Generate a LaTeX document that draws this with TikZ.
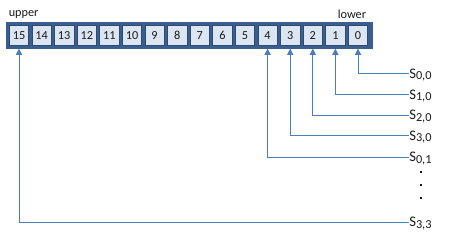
\documentclass[tikz,border=0pt]{standalone}
\usepackage{fontspec}
\setmainfont{Carlito}
\usetikzlibrary{arrows.meta}
\definecolor{boxdark}{HTML}{3A5F8E}
\definecolor{cellfill}{HTML}{DCE6F2}
\definecolor{connblue}{HTML}{4A7EBB}
\definecolor{txt}{HTML}{1A1A1A}
\newcommand{\slab}[1]{{\fontsize{11}{12}\selectfont S}\raisebox{-1.1pt}{\fontsize{9.2}{10}\selectfont #1}}
\begin{document}
\begin{tikzpicture}[x=0.75pt,y=-0.75pt,
  regbox/.style={rectangle,fill=boxdark,draw=boxdark,minimum width=274.5pt,minimum height=19.6pt,inner sep=0pt},
  cell/.style={rectangle,fill=cellfill,draw=boxdark!80!black,line width=0.4pt,minimum width=14.6pt,minimum height=15.2pt,inner sep=0pt,font=\fontsize{9.2}{10}\selectfont,text=txt},
  lab/.style={anchor=west,inner sep=0pt,text height=8.4pt,text depth=1.4pt,text=txt},
  side/.style={inner sep=0pt,font=\fontsize{9.2}{10}\selectfont,text=txt},
  conn/.style={draw=connblue,line width=0.75pt,-{Triangle[width=4.6pt,length=4.6pt]}},
  dotmark/.style={rectangle,fill=txt,minimum size=1.7pt,inner sep=0pt}]
\useasboundingbox (0,0) rectangle (453,241);
\node[regbox] (reg) at (189,35.3) {};
\foreach \i in {0,...,15} {
  \node[cell] (c\i) at ({358-22.6*\i},35.5) {\i};
}
\node[side,anchor=west] (upper) at (8.5,15) {upper};
\node[side,anchor=west] (lower) at (337.5,14.5) {lower};
\node[lab] (s00) at (409,73.5) {\slab{0,0}};
\node[lab] (s10) at (409,94.5) {\slab{1,0}};
\node[lab] (s20) at (409,115.3) {\slab{2,0}};
\node[lab] (s30) at (409,135.8) {\slab{3,0}};
\node[lab] (s01) at (409,157.3) {\slab{0,1}};
\node[lab] (s33) at (409,222.3) {\slab{3,3}};
\node[dotmark] (d1) at (421,172) {};
\node[dotmark] (d2) at (421,185) {};
\node[dotmark] (d3) at (421,198) {};
\draw[conn] (s00.west) -| (c0.south |- reg.south);
\draw[conn] (s10.west) -| (c1.south |- reg.south);
\draw[conn] (s20.west) -| (c2.south |- reg.south);
\draw[conn] (s30.west) -| (c3.south |- reg.south);
\draw[conn] (s01.west) -| (c4.south |- reg.south);
\draw[conn] (s33.west) -| (c15.south |- reg.south);
\end{tikzpicture}
\end{document}
